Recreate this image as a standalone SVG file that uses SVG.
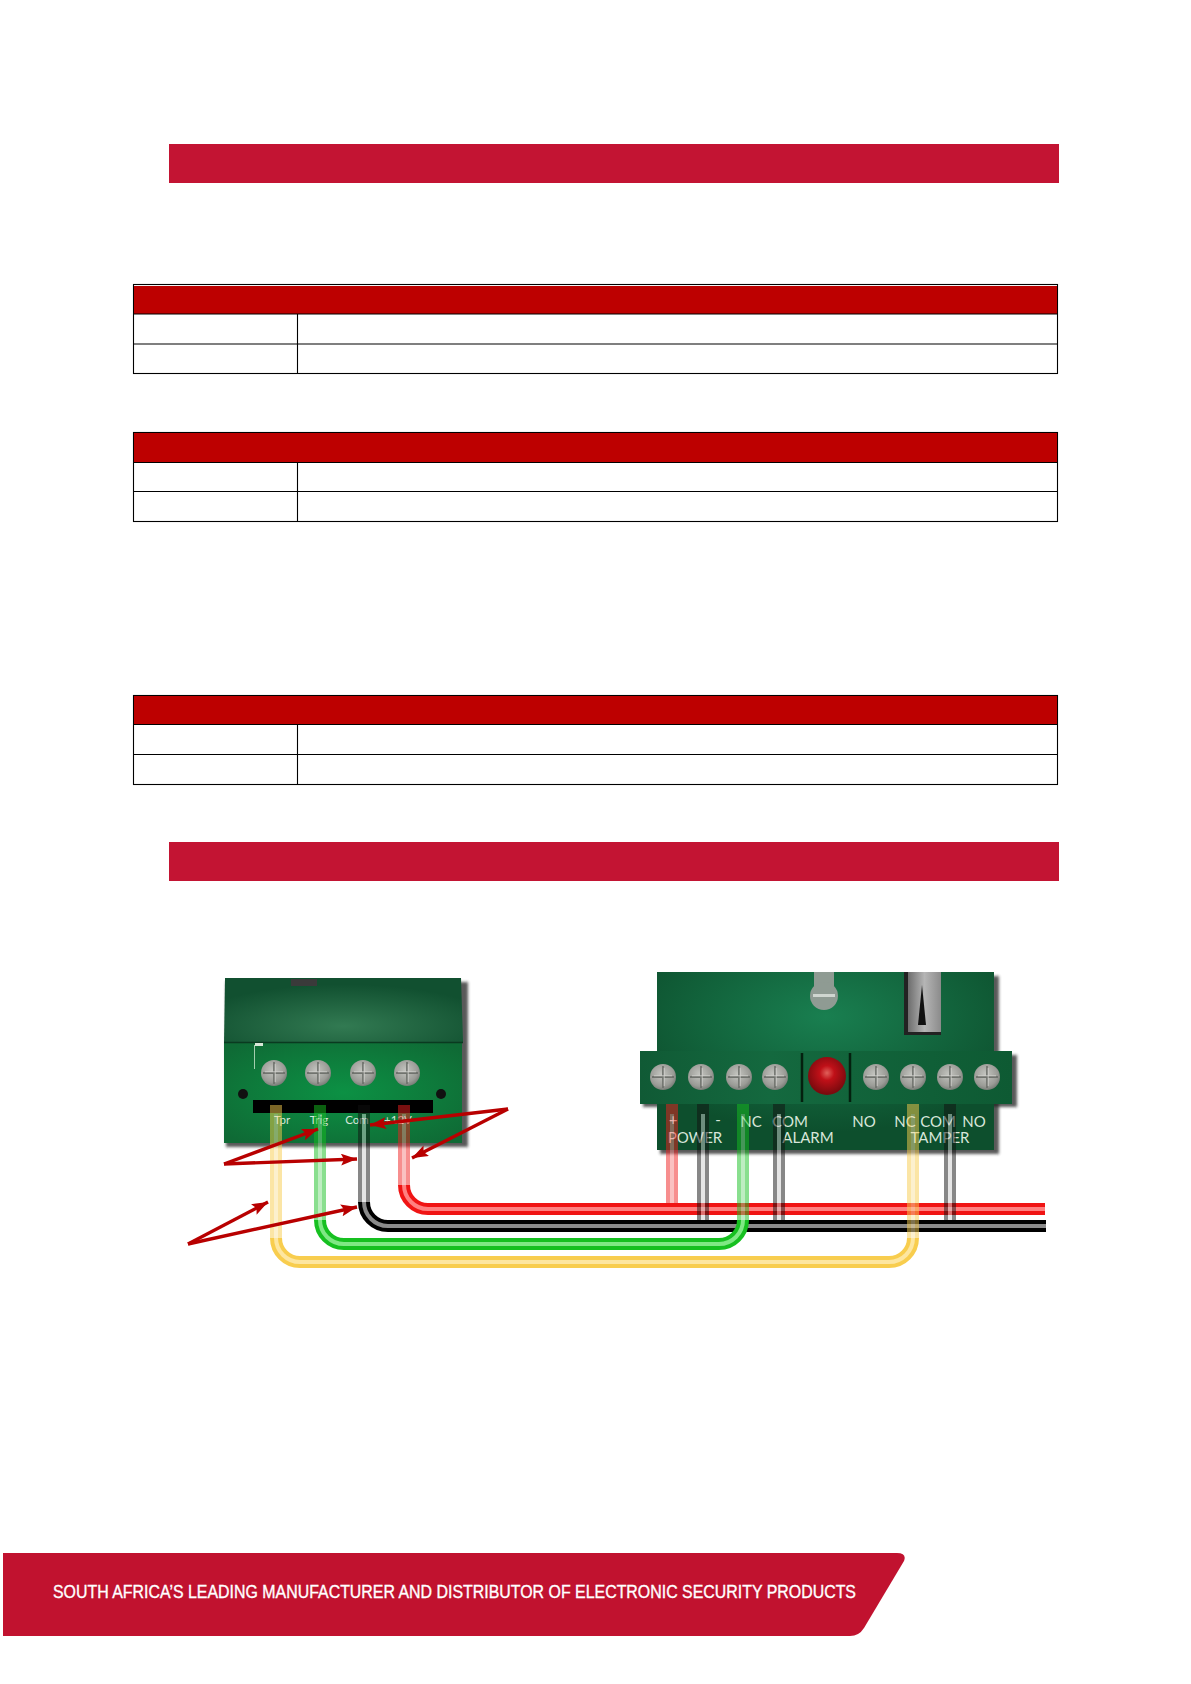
<svg xmlns="http://www.w3.org/2000/svg" xmlns:xlink="http://www.w3.org/1999/xlink" width="1191" height="1684" viewBox="0 0 1191 1684">
<style>
.banner{fill:#c31433}
.thead{fill:#bd0000}
.tbl{fill:#fff;stroke:#000;stroke-width:1.1}
.tl{stroke:#000;stroke-width:1.1;fill:none}
.w{fill:none;stroke-linecap:butt;stroke-linejoin:round}
.lab{font-family:Lato,"Liberation Sans",sans-serif;fill:#d8e6da;text-anchor:middle}
.big{font-size:15px}
.small{font-size:11.5px}
.arrow{stroke:#b80000;stroke-width:3.4;fill:none;marker-end:url(#ah)}
</style>
<defs>
<marker id="ah" markerUnits="userSpaceOnUse" markerWidth="18" markerHeight="14" refX="16" refY="6" orient="auto"><path d="M0 0L16 6L0 12L3 6Z" fill="#b80000"/></marker>
<radialGradient id="gTop" cx=".5" cy=".75" r=".65"><stop offset="0" stop-color="#327a52"/><stop offset="1" stop-color="#115030"/></radialGradient>
<radialGradient id="gLow" cx=".5" cy=".5" r=".65"><stop offset="0" stop-color="#0c9144"/><stop offset="1" stop-color="#0f6a35"/></radialGradient>
<radialGradient id="gBoard" cx=".5" cy=".25" r=".65"><stop offset="0" stop-color="#197f50"/><stop offset="1" stop-color="#0d4f2d"/></radialGradient>
<linearGradient id="gStrip" x1="0" y1="0" x2="1" y2="0"><stop offset="0" stop-color="#105a35"/><stop offset=".35" stop-color="#14693f"/><stop offset="1" stop-color="#0e5a33"/></linearGradient>
<radialGradient id="gScrew" cx=".45" cy=".4" r=".65"><stop offset="0" stop-color="#c4c5c0"/><stop offset=".7" stop-color="#9a9b96"/><stop offset="1" stop-color="#6e746e"/></radialGradient>
<radialGradient id="gLed" cx=".5" cy=".42" r=".55"><stop offset="0" stop-color="#e0605a"/><stop offset=".35" stop-color="#c01018"/><stop offset="1" stop-color="#7a0a0e"/></radialGradient>
<linearGradient id="gSw" x1="0" y1="0" x2="1" y2="0"><stop offset="0" stop-color="#6d6d6d"/><stop offset=".5" stop-color="#b5b5b5"/><stop offset="1" stop-color="#8b8b8b"/></linearGradient>
<filter id="blur" x="-10%" y="-10%" width="120%" height="120%"><feGaussianBlur stdDeviation="1.8"/></filter>
<filter id="soft" x="-5%" y="-5%" width="110%" height="110%"><feGaussianBlur stdDeviation=".7"/></filter>
<g id="screw"><circle r="13" fill="url(#gScrew)"/><path d="M-11 0H11M0 -11V11" stroke="#70736e" stroke-width="1.800"/><path d="M-9 -1.200H9M1.200 -9V9" stroke="#d4d4d0" stroke-width=".8"/></g>
</defs>
<rect width="1191" height="1684" fill="#fff"/>

<g id="banner-1"><rect class="banner" x="169" y="144" width="890" height="39"/></g>
<g id="banner-2"><rect class="banner" x="169" y="842" width="890" height="39"/></g>

<g id="table-1">
<rect class="tbl" x="133.5" y="284.5" width="924" height="89"/>
<rect class="thead" x="134" y="286" width="923" height="28"/>
<path class="tl" d="M133.5 314H1057.5M133.5 344H1057.5M297.5 314V373.5"/>
</g>
<g id="table-2">
<rect class="tbl" x="133.5" y="432.5" width="924" height="89"/>
<rect class="thead" x="134" y="433" width="923" height="29"/>
<path class="tl" d="M133.5 462.5H1057.5M133.5 491.5H1057.5M297.5 462.5V521.5"/>
</g>
<g id="table-3">
<rect class="tbl" x="133.5" y="695.5" width="924" height="89"/>
<rect class="thead" x="134" y="696" width="923" height="28"/>
<path class="tl" d="M133.5 724.5H1057.5M133.5 754.5H1057.5M297.5 724.5V784.5"/>
</g>

<g id="left-device">
<rect x="226" y="982" width="242" height="165" fill="#222" opacity=".75" filter="url(#blur)"/>
<rect x="224" y="1042" width="238" height="101" fill="url(#gLow)"/>
<path d="M225 978H461L463 1042H224Z" fill="url(#gTop)"/>
<path d="M224 1042.5H463" stroke="#0a3a20" stroke-width="1.5"/>
<rect x="291" y="979" width="26" height="7" fill="#3a3a3a"/>
<rect x="255" y="1043" width="8" height="3" fill="#d8e8d8"/>
<path d="M254.500 1045V1069" stroke="#c8e4cc" stroke-width="1" opacity=".8"/>
<use xlink:href="#screw" href="#screw" x="274" y="1073"/>
<use xlink:href="#screw" href="#screw" x="318" y="1073"/>
<use xlink:href="#screw" href="#screw" x="363" y="1073"/>
<use xlink:href="#screw" href="#screw" x="407" y="1073"/>
<circle cx="243" cy="1094" r="5" fill="#111"/>
<circle cx="441" cy="1094" r="5" fill="#111"/>
<rect x="253" y="1100" width="180" height="13" fill="#000"/>
<text class="lab small" x="282" y="1124">Tpr</text>
<text class="lab small" x="319" y="1124">Trig</text>
<text class="lab small" x="357" y="1124">Com</text>
<text class="lab small" x="398" y="1124">+12V</text>
</g>

<g id="right-device">
<rect x="660" y="976" width="339" height="178" fill="#222" opacity=".75" filter="url(#blur)"/>
<rect x="643" y="1055" width="374" height="52" fill="#222" opacity=".75" filter="url(#blur)"/>
<rect x="657" y="972" width="337" height="178" fill="url(#gBoard)"/>
<rect x="640" y="1051" width="372" height="53" fill="url(#gStrip)"/>
<rect x="814" y="972" width="20" height="14" fill="#8f9b93"/>
<circle cx="824" cy="996" r="14" fill="#8f9b93"/>
<rect x="813" y="994" width="22" height="3" fill="#cfd6d0"/>
<rect x="904" y="972" width="37" height="63" fill="#222"/>
<rect x="908" y="972" width="33" height="60" fill="url(#gSw)"/>
<path d="M922 985L918 1025H926Z" fill="#111"/>
<path d="M802 1053V1102M850 1053V1102" stroke="#04200f" stroke-width="2.500"/>
<circle cx="827" cy="1076" r="19" fill="url(#gLed)"/>
<use xlink:href="#screw" href="#screw" x="663" y="1077"/>
<use xlink:href="#screw" href="#screw" x="701" y="1077"/>
<use xlink:href="#screw" href="#screw" x="739" y="1077"/>
<use xlink:href="#screw" href="#screw" x="775" y="1077"/>
<use xlink:href="#screw" href="#screw" x="876" y="1077"/>
<use xlink:href="#screw" href="#screw" x="913" y="1077"/>
<use xlink:href="#screw" href="#screw" x="950" y="1077"/>
<use xlink:href="#screw" href="#screw" x="987" y="1077"/>
<text class="lab big" x="673" y="1125">+</text>
<text class="lab big" x="718" y="1125">-</text>
<text class="lab big" x="751" y="1127">NC</text>
<text class="lab big" x="790" y="1127">COM</text>
<text class="lab big" x="864" y="1127">NO</text>
<text class="lab big" x="905" y="1127">NC</text>
<text class="lab big" x="938" y="1127">COM</text>
<text class="lab big" x="974" y="1127">NO</text>
<text class="lab big" x="695" y="1143">POWER</text>
<text class="lab big" x="808" y="1143">ALARM</text>
<text class="lab big" x="940" y="1143">TAMPER</text>
</g>

<g id="connectors">
<g id="wires-solid">
<path class="w" d="M1045 1209H428A24 24 0 0 1 404 1185" stroke="#f01414" stroke-width="12"/>
<path class="w" d="M1045 1209H428A24 24 0 0 1 404 1185" stroke="#ff8080" stroke-width="4" filter="url(#soft)"/>
<path class="w" d="M1046 1226H388A24 24 0 0 1 364 1202" stroke="#000" stroke-width="12"/>
<path class="w" d="M1046 1226H388A24 24 0 0 1 364 1202" stroke="#8a8a8a" stroke-width="4" filter="url(#soft)"/>
<path class="w" d="M320 1220A24 24 0 0 0 344 1244H719A24 24 0 0 0 743 1220" stroke="#16c020" stroke-width="12"/>
<path class="w" d="M320 1220A24 24 0 0 0 344 1244H719A24 24 0 0 0 743 1220" stroke="#7fe884" stroke-width="4" filter="url(#soft)"/>
<path class="w" d="M276 1238A24 24 0 0 0 300 1262H889A24 24 0 0 0 913 1238" stroke="#f8cd4e" stroke-width="12"/>
<path class="w" d="M276 1238A24 24 0 0 0 300 1262H889A24 24 0 0 0 913 1238" stroke="#fde6a0" stroke-width="4" filter="url(#soft)"/>
</g>
<g id="wires-translucent" opacity=".5">
<path class="w" d="M276 1105V1238M913 1104V1238" stroke="#f8cd4e" stroke-width="12"/>
<path class="w" d="M320 1105V1220M743 1104V1220" stroke="#16c020" stroke-width="12"/>
<path class="w" d="M364 1105V1202M703 1104V1220M779 1104V1220M950 1104V1220" stroke="#111" stroke-width="12"/>
<path class="w" d="M404 1105V1185M672 1104V1203" stroke="#f02020" stroke-width="12"/>
<path class="w" d="M276 1114V1238M913 1114V1238M320 1114V1220M743 1114V1220M404 1114V1185M672 1114V1203" stroke="#fff" stroke-width="4" opacity=".45" filter="url(#soft)"/>
<path class="w" d="M364 1114V1202M703 1114V1220M779 1114V1220M950 1114V1220" stroke="#ccc" stroke-width="4" filter="url(#soft)"/>
</g>
<g id="arrows">
<path class="arrow" d="M508 1109L370 1125"/>
<path class="arrow" d="M508 1109L412 1158"/>
<path class="arrow" d="M224 1164L318 1129"/>
<path class="arrow" d="M224 1164L357 1159"/>
<path class="arrow" d="M188 1244L268 1202"/>
<path class="arrow" d="M188 1244L357 1207"/>
</g>
</g>

<g id="footer">
<path class="banner" d="M3 1553H897Q907 1553 904 1561L864 1628Q859 1636 850 1636H3Z" style="fill:#c1122f"/>
<text x="53" y="1598" font-family="'Liberation Sans',Arial,sans-serif" font-size="17.500" fill="#fff" stroke="#fff" stroke-width=".35" textLength="803" lengthAdjust="spacingAndGlyphs">SOUTH AFRICA’S LEADING MANUFACTURER AND DISTRIBUTOR OF ELECTRONIC SECURITY PRODUCTS</text>
</g>
</svg>
